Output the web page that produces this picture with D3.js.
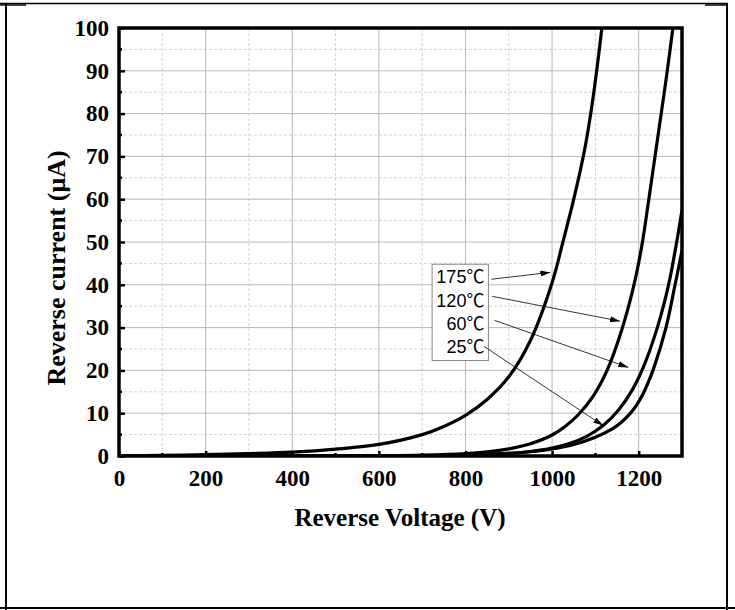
<!DOCTYPE html>
<html lang="en">
<head>
    <meta charset="UTF-8">
    <title>Reverse current vs reverse voltage</title>
    <script src="https://cdnjs.cloudflare.com/ajax/libs/d3/7.8.5/d3.min.js"></script>
    <style>
        body { margin: 0; background: #fff; }
        svg { display: block; }
        .tick-label { font-family: "Liberation Serif", "Times New Roman", serif; font-weight: bold; font-size: 23px; fill: #000; }
        .axis-title { font-family: "Liberation Serif", "Times New Roman", serif; font-weight: bold; font-size: 25px; fill: #000; }
        .note { font-family: "Liberation Sans", Arial, "Noto Sans CJK SC", sans-serif; font-size: 18px; fill: #000; }
    </style>
</head>
<body>
<svg id="chart" width="735" height="610"></svg>
<script>
    // Data: [reverse voltage (V), reverse current (uA)]
    const curve175 = [[0, 0], [100, 0.15], [200, 0.3], [300, 0.55], [400, 0.9], [500, 1.6], [600, 2.7],
        [700, 5], [750, 6.9], [800, 9.5], [850, 13.2], [900, 18.5], [950, 27], [1000, 40.5], [1025, 50],
        [1050, 60], [1075, 71.5], [1090, 80.5], [1103, 90], [1115, 100], [1125, 108]];
    const curve120 = [[0, 0], [400, 0.03], [600, 0.08], [700, 0.2], [800, 0.55], [850, 0.95], [900, 1.65],
        [950, 2.85], [1000, 4.9], [1030, 6.9], [1061, 9.7], [1095, 14], [1127, 20], [1161, 29.5],
        [1188, 39.5], [1207, 49], [1222, 59], [1237, 69.5], [1252, 80], [1266, 90], [1279, 100], [1290, 108]];
    const curve60 = [[0, 0], [600, 0.02], [700, 0.06], [800, 0.19], [900, 0.6], [950, 1.05], [1000, 1.85],
        [1040, 2.9], [1080, 4.6], [1120, 7.3], [1153, 10.7], [1185, 15.4], [1211, 20.8], [1243, 30],
        [1269, 40], [1286, 49], [1300, 57.5]];
    const curve25 = [[0, 0], [600, 0.02], [700, 0.06], [800, 0.2], [900, 0.6], [950, 1.0], [1000, 1.65],
        [1050, 2.7], [1100, 4.4], [1140, 6.4], [1160, 7.9], [1180, 9.9], [1195, 11.9], [1210, 14.5],
        [1222, 17.2], [1234, 20.3], [1263, 30], [1284, 40], [1300, 48]];

    const series = [curve175, curve120, curve60, curve25];

    // annotation: labels and arrows (data units)
    const noteLabels = ["175℃", "120℃", "60℃", "25℃"];
    const arrowFrom = [[860, 41.3], [862, 37.3], [867, 31.7], [843, 25.6]];
    const arrowTo = [[996, 42.9], [1157, 31.5], [1176, 20.7], [1118, 7.1]];
    const noteBox = {v0: 723, v1: 853, i0: 22.3, i1: 44.8};

    const xTicks = [0, 200, 400, 600, 800, 1000, 1200];
    const yTicks = [0, 10, 20, 30, 40, 50, 60, 70, 80, 90, 100];

    const svg = d3.select("#chart");
    const plotL = 119, plotR = 682, plotT = 28, plotB = 456;

    const x = d3.scaleLinear().domain([0, 1300]).range([plotL, plotR]);
    const y = d3.scaleLinear().domain([0, 100]).range([plotB, plotT]);

    // page frame (table cell look)
    const frame = svg.append("g").attr("stroke", "#000").attr("fill", "none");
    frame.append("line").attr("x1", 0).attr("x2", 728).attr("y1", 3.5).attr("y2", 3.5).attr("stroke-width", 1.5);
    frame.append("line").attr("x1", 0).attr("x2", 26).attr("y1", 5).attr("y2", 5).attr("stroke-width", 1.5);
    frame.append("line").attr("x1", 705).attr("x2", 728).attr("y1", 5).attr("y2", 5).attr("stroke-width", 1.5);
    frame.append("line").attr("x1", 6).attr("x2", 6).attr("y1", 4).attr("y2", 610).attr("stroke-width", 2);
    frame.append("line").attr("x1", 727).attr("x2", 727).attr("y1", 4).attr("y2", 610).attr("stroke-width", 2);
    frame.append("line").attr("x1", 0).attr("x2", 735).attr("y1", 608).attr("y2", 608).attr("stroke-width", 2);

    // grid
    const grid = svg.append("g");
    d3.range(100, 1300, 200).forEach(v => {
        grid.append("line").attr("x1", x(v)).attr("x2", x(v)).attr("y1", plotT).attr("y2", plotB)
            .attr("stroke", "#d4d4d4").attr("stroke-dasharray", "3,2");
    });
    d3.range(5, 100, 10).forEach(v => {
        grid.append("line").attr("x1", plotL).attr("x2", plotR).attr("y1", y(v)).attr("y2", y(v))
            .attr("stroke", "#d4d4d4").attr("stroke-dasharray", "3,2");
    });
    xTicks.slice(1).forEach(v => {
        grid.append("line").attr("x1", x(v)).attr("x2", x(v)).attr("y1", plotT).attr("y2", plotB)
            .attr("stroke", "#b8b8b8");
    });
    yTicks.slice(1, -1).forEach(v => {
        grid.append("line").attr("x1", plotL).attr("x2", plotR).attr("y1", y(v)).attr("y2", y(v))
            .attr("stroke", "#b8b8b8");
    });

    // curves, clipped to the plot
    svg.append("clipPath").attr("id", "plot-clip")
        .append("rect").attr("x", plotL).attr("y", plotT).attr("width", plotR - plotL).attr("height", plotB - plotT);

    const line = d3.line()
        .x(d => x(d[0]))
        .y(d => y(d[1]))
        .curve(d3.curveCatmullRom.alpha(0.5));

    svg.append("g").attr("clip-path", "url(#plot-clip)")
        .selectAll("path")
        .data(series)
        .enter()
        .append("path")
        .attr("d", line)
        .attr("fill", "none")
        .attr("stroke", "#000")
        .attr("stroke-width", 3.2)
        .attr("stroke-linejoin", "round");

    // axes with inward ticks
    const xAxis = d3.axisBottom(x).tickValues(xTicks).tickFormat(d3.format("d"))
        .tickSize(-5).tickSizeOuter(0).tickPadding(13);
    const yAxis = d3.axisLeft(y).tickValues(yTicks).tickFormat(d3.format("d"))
        .tickSize(-6).tickSizeOuter(0).tickPadding(10);

    const gx = svg.append("g").attr("transform", `translate(0,${plotB})`).call(xAxis);
    const gy = svg.append("g").attr("transform", `translate(${plotL},0)`).call(yAxis);
    [gx, gy].forEach(g => {
        g.attr("font-family", null).attr("font-size", null);
        g.select(".domain").remove();
        g.selectAll(".tick line").attr("stroke", "#000").attr("stroke-width", 2.5);
        g.selectAll(".tick text").attr("class", "tick-label");
    });
    gx.selectAll(".tick text").attr("dy", "0.72em");

    // minor ticks
    d3.range(100, 1300, 200).forEach(v => {
        svg.append("line").attr("x1", x(v)).attr("x2", x(v)).attr("y1", plotB).attr("y2", plotB - 3)
            .attr("stroke", "#000").attr("stroke-width", 2.5);
    });
    d3.range(5, 100, 10).forEach(v => {
        svg.append("line").attr("x1", plotL).attr("x2", plotL + 3).attr("y1", y(v)).attr("y2", y(v))
            .attr("stroke", "#000").attr("stroke-width", 2.5);
    });

    // plot frame
    svg.append("rect")
        .attr("x", plotL).attr("y", plotT)
        .attr("width", plotR - plotL).attr("height", plotB - plotT)
        .attr("fill", "none").attr("stroke", "#000").attr("stroke-width", 3.5);

    // titles
    svg.append("text").attr("class", "axis-title")
        .attr("x", 400).attr("y", 526).attr("text-anchor", "middle")
        .text("Reverse Voltage (V)");
    svg.append("text").attr("class", "axis-title")
        .attr("transform", "translate(65,268) rotate(-90)").attr("text-anchor", "middle")
        .style("font-size", "26px")
        .text("Reverse current (μA)");

    // annotation box and arrows
    svg.append("defs").append("marker")
        .attr("id", "arrow").attr("viewBox", "0 0 10 6").attr("refX", 10).attr("refY", 3)
        .attr("markerWidth", 10).attr("markerHeight", 6).attr("markerUnits", "userSpaceOnUse")
        .attr("orient", "auto")
        .append("path").attr("d", "M0,0 L10,3 L0,6 Z").attr("fill", "#000");

    svg.append("rect")
        .attr("x", x(noteBox.v0)).attr("y", y(noteBox.i1))
        .attr("width", x(noteBox.v1) - x(noteBox.v0)).attr("height", y(noteBox.i0) - y(noteBox.i1))
        .attr("fill", "#fff").attr("stroke", "#888").attr("stroke-width", 1);

    svg.selectAll("text.note")
        .data(noteLabels)
        .enter()
        .append("text")
        .attr("class", "note")
        .attr("x", x(noteBox.v1) - 4)
        .attr("y", (d, k) => y(noteBox.i1) + 19 + k * 23.3)
        .attr("text-anchor", "end")
        .text(d => d);

    svg.selectAll("line.arrow")
        .data(arrowFrom)
        .enter()
        .append("line")
        .attr("class", "arrow")
        .attr("x1", d => x(d[0])).attr("y1", d => y(d[1]))
        .attr("x2", (d, k) => x(arrowTo[k][0])).attr("y2", (d, k) => y(arrowTo[k][1]))
        .attr("stroke", "#000").attr("stroke-width", 0.8)
        .attr("marker-end", "url(#arrow)");
</script>
</body>
</html>
